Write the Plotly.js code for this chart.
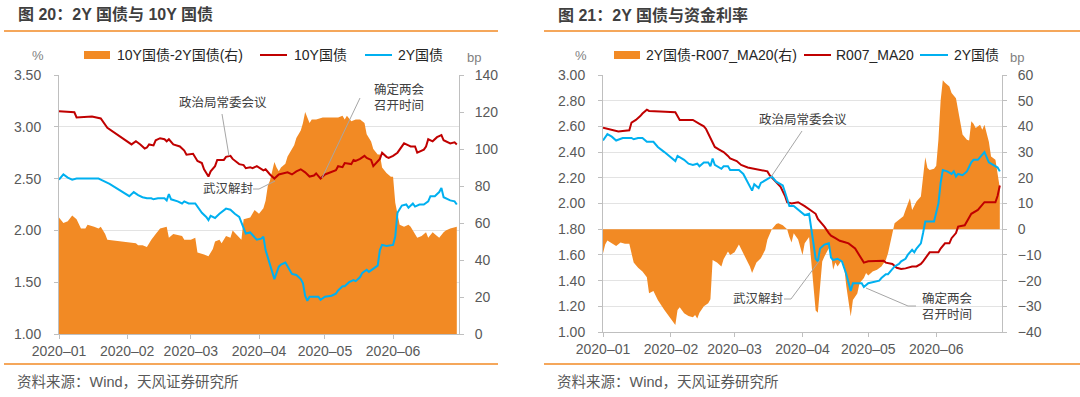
<!DOCTYPE html>
<html><head><meta charset="utf-8">
<script src="https://cdn.plot.ly/plotly-3.0.1.min.js"></script>
<style>html,body{margin:0;padding:0;background:#fff;}#chart{width:1080px;height:397px;}</style>
</head><body><div id="chart"></div>
<script>
// ---------- Data: chart 20 (left) ----------
const monthTicks = ['2020-01-01','2020-02-01','2020-03-01','2020-04-01','2020-05-01','2020-06-01'];
const tickLabels = ['2020–01','2020–02','2020–03','2020–04','2020–05','2020–06'];

const spreadL_dates = ['01-01','01-03','01-05','01-07','01-09','01-11','01-13','01-14','01-17','01-19','01-20','01-22','01-23','02-05','02-06','02-08','02-10','02-12','02-14','02-16','02-19','02-20','02-22','02-26','02-27','03-01','03-03','03-04','03-07','03-09','03-11','03-12','03-14','03-15','03-17','03-19','03-20','03-23','03-24','03-25','03-28','03-30','04-01','04-03','04-04','04-05','04-06','04-07','04-08','04-09','04-10','04-11','04-13','04-14','04-16','04-17','04-18','04-20','04-21','04-22','04-24','04-25','04-27','04-30','05-04','05-07','05-09','05-10','05-11','05-13','05-15','05-17','05-18','05-19','05-20','05-22','05-23','05-25','05-26','05-27','05-29','05-31','06-01','06-02','06-03','06-04','06-06','06-08','06-09','06-11','06-12','06-14','06-16','06-17','06-19','06-21','06-22','06-24','06-25','06-27','06-30'];
const spreadL = [63,60,61,64,62,57,57,59,58,57,58,54,51,49,48,48,47,51,54,57,58,52,54,53,51,51,52,44,43,42,46,50,51,49,53,52,56,52,51,62,63,67,65,68,72,80,83,88,93,90,88,90,92,96,100,102,106,110,114,120,114,116,116,117,117,117,118,116,118,115,116,116,115,114,108,104,100,97,97,90,87,85,85,71,65,59,58,59,58,54,52,53,55,52,55,53,52,55,56,57,58];

const tenY_dates = ['01-01','01-08','01-09','01-16','01-20','01-22','01-23','02-03','02-05','02-07','02-09','02-10','02-11','02-13','02-14','02-16','02-18','02-19','02-20','02-22','02-25','02-27','02-28','03-02','03-04','03-06','03-07','03-09','03-10','03-12','03-13','03-16','03-17','03-19','03-20','03-23','03-25','03-26','03-28','03-29','03-31','04-03','04-04','04-06','04-08','04-10','04-12','04-14','04-16','04-18','04-20','04-22','04-24','04-26','04-27','04-29','05-01','05-04','05-06','05-07','05-09','05-10','05-13','05-14','05-15','05-17','05-19','05-20','05-22','05-23','05-24','05-26','05-27','05-29','05-30','06-01','06-03','06-05','06-06','06-08','06-09','06-11','06-12','06-15','06-16','06-17','06-19','06-21','06-23','06-24','06-27','06-29','06-30'];
const tenY = [3.15,3.14,3.09,3.10,3.08,3.02,2.99,2.83,2.86,2.83,2.79,2.80,2.83,2.82,2.87,2.89,2.88,2.86,2.88,2.83,2.81,2.77,2.73,2.74,2.67,2.65,2.59,2.52,2.57,2.62,2.68,2.68,2.71,2.72,2.69,2.64,2.63,2.60,2.61,2.60,2.62,2.58,2.59,2.54,2.50,2.54,2.55,2.56,2.54,2.57,2.59,2.56,2.52,2.53,2.55,2.50,2.54,2.56,2.58,2.62,2.61,2.65,2.64,2.68,2.67,2.69,2.72,2.70,2.68,2.62,2.64,2.69,2.75,2.71,2.70,2.72,2.75,2.81,2.84,2.82,2.81,2.81,2.75,2.78,2.81,2.88,2.86,2.90,2.92,2.87,2.84,2.85,2.83];

const twoYL_dates = ['01-01','01-03','01-05','01-07','01-09','01-19','01-20','01-22','01-24','02-02','02-04','02-06','02-08','02-10','02-12','02-13','02-15','02-18','02-19','02-20','02-21','02-24','02-26','02-27','02-29','03-03','03-04','03-06','03-08','03-09','03-10','03-12','03-14','03-16','03-17','03-19','03-21','03-23','03-24','03-26','03-28','03-30','03-31','04-02','04-03','04-04','04-06','04-07','04-08','04-10','04-11','04-13','04-15','04-16','04-18','04-20','04-21','04-22','04-23','04-24','04-28','04-29','05-01','05-04','05-06','05-07','05-09','05-10','05-12','05-14','05-15','05-17','05-18','05-20','05-21','05-23','05-25','05-26','05-27','05-29','05-31','06-01','06-02','06-03','06-05','06-07','06-08','06-10','06-11','06-13','06-15','06-17','06-18','06-20','06-22','06-23','06-24','06-27','06-29','06-30'];
const twoYL = [2.49,2.54,2.51,2.49,2.50,2.50,2.49,2.47,2.45,2.33,2.37,2.34,2.32,2.31,2.31,2.30,2.31,2.31,2.29,2.35,2.30,2.28,2.26,2.28,2.26,2.26,2.23,2.17,2.13,2.10,2.14,2.12,2.16,2.19,2.21,2.20,2.16,2.13,2.08,1.97,1.98,1.94,1.91,1.92,1.94,1.81,1.68,1.61,1.53,1.65,1.67,1.69,1.61,1.58,1.57,1.53,1.49,1.37,1.32,1.36,1.36,1.33,1.36,1.37,1.39,1.42,1.46,1.46,1.50,1.52,1.51,1.55,1.59,1.62,1.60,1.63,1.66,1.81,1.86,1.85,1.86,1.86,1.94,2.17,2.24,2.25,2.22,2.26,2.23,2.25,2.25,2.28,2.33,2.33,2.37,2.41,2.32,2.29,2.28,2.25];

// ---------- Data: chart 21 (right) ----------
const spreadR_dates = ['01-01','01-02','01-03','01-05','01-07','01-09','01-11','01-13','01-15','01-17','01-19','01-21','01-22','01-24','01-26','01-29','02-01','02-03','02-04','02-05','02-07','02-09','02-11','02-12','02-13','02-14','02-16','02-18','02-19','02-20','02-22','02-24','02-25','02-27','02-28','03-01','03-03','03-06','03-08','03-09','03-11','03-13','03-15','03-16','03-18','03-20','03-21','03-23','03-25','03-26','03-27','03-28','03-30','04-01','04-02','04-04','04-05','04-06','04-07','04-08','04-09','04-10','04-11','04-13','04-14','04-15','04-16','04-17','04-19','04-20','04-21','04-23','04-24','04-26','04-27','04-29','04-30','05-01','05-03','05-05','05-07','05-09','05-10','05-11','05-12','05-13','05-14','05-15','05-17','05-18','05-19','05-20','05-21','05-22','05-23','05-25','05-26','05-27','05-28','05-29','05-31','06-01','06-02','06-03','06-04','06-05','06-07','06-08','06-10','06-11','06-12','06-13','06-15','06-16','06-17','06-18','06-19','06-21','06-22','06-23','06-25','06-26','06-28','06-29','06-30'];
const spreadR = [-9.4,-6,-4.4,-5.5,-6.5,-5.2,-5.7,-5.7,-13,-15,-16.5,-18.7,-24.9,-24,-27.5,-31.4,-35,-37.3,-31.4,-30.4,-32.7,-33.8,-34.3,-33.4,-34.7,-32.5,-30,-28.8,-27.3,-12,-13,-14.5,-11.7,-8.7,-10,-9,-6,-11.3,-14.5,-17,-13,-11.3,-8,-4,0,2,2.3,1.5,0,-2.9,-5.2,-1.6,-4,-10,-5.5,-3,-12,-20,-31.6,-32.5,-21,-12.6,-10.6,-7.4,-10,-15.8,-13,-14.5,-12,-14.5,-22.3,-34,-27.5,-25,-21,-19,-17,-18,-16.5,-15.8,-14.5,-12,-9.4,-5.5,-1.5,2.3,3,3.6,5,7.5,10,12,7.5,9.5,10.8,12.7,20.5,28,23.8,23,23.5,24.7,34.8,50,58,57,55.5,53,51,46.5,42.6,36.8,34.8,34.5,42,41,39.4,40.6,38.7,40.6,34,28.3,27,22,16];

const r007_dates = ['01-01','01-03','01-05','01-08','01-10','01-13','01-14','01-16','01-18','01-19','01-21','01-22','01-27','02-03','02-05','02-08','02-11','02-14','02-16','02-17','02-19','02-21','02-23','02-25','02-27','02-28','03-02','03-04','03-07','03-10','03-13','03-16','03-17','03-20','03-22','03-24','03-25','03-27','03-30','04-02','04-05','04-07','04-08','04-11','04-13','04-14','04-16','04-18','04-20','04-22','04-25','04-27','04-29','05-01','05-06','05-08','05-09','05-12','05-14','05-16','05-18','05-21','05-23','05-25','05-26','05-29','05-31','06-02','06-03','06-05','06-07','06-08','06-10','06-11','06-14','06-15','06-17','06-20','06-22','06-23','06-28','06-29','06-30'];
const r007 = [2.59,2.58,2.57,2.56,2.565,2.57,2.63,2.65,2.68,2.70,2.73,2.72,2.715,2.71,2.65,2.65,2.65,2.62,2.60,2.58,2.51,2.44,2.42,2.40,2.37,2.35,2.33,2.30,2.28,2.27,2.26,2.25,2.22,2.17,2.13,2.06,2.01,2.00,2.01,1.98,1.94,1.92,1.88,1.82,1.77,1.75,1.73,1.71,1.70,1.69,1.65,1.60,1.54,1.55,1.55,1.555,1.54,1.53,1.50,1.49,1.495,1.51,1.51,1.53,1.55,1.62,1.62,1.62,1.65,1.69,1.69,1.73,1.77,1.82,1.83,1.86,1.92,1.95,1.99,2.01,2.01,2.06,2.14];

const twoYR_dates = ['01-01','01-03','01-05','01-07','01-10','01-14','01-15','01-17','01-19','01-21','01-24','01-26','01-29','02-01','02-03','02-04','02-07','02-09','02-11','02-13','02-14','02-16','02-18','02-19','02-20','02-21','02-24','02-25','02-27','02-28','03-03','03-05','03-07','03-09','03-10','03-12','03-13','03-15','03-18','03-20','03-23','03-24','03-26','03-28','03-30','04-01','04-02','04-04','04-05','04-06','04-07','04-08','04-09','04-11','04-13','04-14','04-15','04-17','04-19','04-21','04-23','04-24','04-28','04-29','05-01','05-03','05-06','05-07','05-09','05-10','05-12','05-13','05-15','05-16','05-18','05-19','05-21','05-22','05-23','05-25','05-26','05-27','05-31','06-02','06-03','06-04','06-06','06-08','06-09','06-10','06-11','06-13','06-15','06-17','06-18','06-20','06-22','06-23','06-25','06-27','06-29','06-30'];
const twoYR = [2.49,2.54,2.52,2.49,2.51,2.51,2.50,2.51,2.51,2.48,2.48,2.44,2.40,2.36,2.33,2.37,2.34,2.31,2.30,2.31,2.29,2.32,2.32,2.29,2.35,2.30,2.27,2.29,2.29,2.26,2.26,2.23,2.17,2.10,2.15,2.12,2.16,2.18,2.21,2.17,2.14,2.09,1.98,1.98,1.95,1.92,1.91,1.92,1.82,1.69,1.57,1.55,1.65,1.68,1.69,1.58,1.56,1.57,1.55,1.45,1.32,1.38,1.38,1.35,1.38,1.39,1.40,1.42,1.45,1.45,1.49,1.51,1.53,1.55,1.57,1.60,1.64,1.62,1.65,1.69,1.77,1.86,1.86,2.00,2.16,2.26,2.25,2.23,2.25,2.21,2.23,2.22,2.25,2.32,2.34,2.34,2.38,2.40,2.32,2.30,2.28,2.25];

// ---------- Styling ----------
const W = 1080, H = 397;
const ORANGE = '#F28A24', RED = '#C00000', BLUE = '#00B0F0';
const AXC = '#bfbfbf', GRID = '#e3e3e3', TICKC = '#595959';
const FONT = '"Liberation Sans", Arial, "Noto Sans CJK SC", sans-serif';
const P = x => x / W, Q = y => 1 - y / H;
const d = arr => arr.map(s => '2020-' + s);

const traces = [
  {x: d(spreadL_dates), y: spreadL, type: 'scatter', mode: 'lines', fill: 'tozeroy',
   fillcolor: ORANGE, line: {width: 0, color: ORANGE}, xaxis: 'x', yaxis: 'y', name: '10Y国债-2Y国债(右)'},
  {x: d(tenY_dates), y: tenY, type: 'scatter', mode: 'lines', line: {color: RED, width: 2},
   xaxis: 'x', yaxis: 'y2', name: '10Y国债'},
  {x: d(twoYL_dates), y: twoYL, type: 'scatter', mode: 'lines', line: {color: BLUE, width: 2},
   xaxis: 'x', yaxis: 'y2', name: '2Y国债'},
  {x: d(spreadR_dates), y: spreadR, type: 'scatter', mode: 'lines', fill: 'tozeroy',
   fillcolor: ORANGE, line: {width: 0, color: ORANGE}, xaxis: 'x2', yaxis: 'y3', name: '2Y国债-R007_MA20(右)'},
  {x: d(r007_dates), y: r007, type: 'scatter', mode: 'lines', line: {color: RED, width: 2},
   xaxis: 'x2', yaxis: 'y4', name: 'R007_MA20'},
  {x: d(twoYR_dates), y: twoYR, type: 'scatter', mode: 'lines', line: {color: BLUE, width: 2},
   xaxis: 'x2', yaxis: 'y4', name: '2Y国债'}
];

const tickfont = {family: FONT, size: 14, color: TICKC};
const xBase = {type: 'date', range: ['2020-01-01', '2020-07-01'], tickvals: monthTicks, ticktext: tickLabels,
  ticks: 'outside', ticklen: 4, tickcolor: AXC, showline: true, linecolor: AXC, linewidth: 1,
  showgrid: false, zeroline: false, tickfont: tickfont, fixedrange: true};
const yCommon = {ticks: 'outside', ticklen: 4, tickcolor: AXC, showline: true, linecolor: AXC, linewidth: 1,
  zeroline: false, tickfont: tickfont, fixedrange: true};

const layout = {
  width: W, height: H, margin: {l: 0, r: 0, t: 0, b: 0},
  paper_bgcolor: '#fff', plot_bgcolor: 'rgba(0,0,0,0)', showlegend: false,
  font: {family: FONT},
  xaxis: Object.assign({}, xBase, {domain: [P(59), P(459)], anchor: 'y'}),
  yaxis: Object.assign({}, yCommon, {domain: [Q(334), Q(75)], anchor: 'x', side: 'right', range: [0, 140],
    dtick: 20, tick0: 0, showgrid: false, ticklabelstandoff: 8}),
  yaxis2: Object.assign({}, yCommon, {overlaying: 'y', anchor: 'x', side: 'left', range: [1, 3.5],
    dtick: 0.5, tick0: 1, tickformat: '.2f', showgrid: true, gridcolor: GRID, ticklabelstandoff: 10}),
  xaxis2: Object.assign({}, xBase, {domain: [P(603), P(1002)], anchor: 'y3'}),
  yaxis3: Object.assign({}, yCommon, {domain: [Q(332), Q(75)], anchor: 'x2', side: 'right', range: [-40, 60],
    dtick: 10, tick0: 0, showgrid: false, ticklabelstandoff: 8}),
  yaxis4: Object.assign({}, yCommon, {overlaying: 'y3', anchor: 'x2', side: 'left', range: [1, 3],
    dtick: 0.2, tick0: 1, tickformat: '.2f', showgrid: true, gridcolor: GRID, ticklabelstandoff: 10}),
  shapes: [],
  annotations: []
};

function line(x0, y0, x1, y1, color, width) {
  layout.shapes.push({type: 'line', xref: 'paper', yref: 'paper', x0: P(x0), y0: Q(y0), x1: P(x1), y1: Q(y1),
    line: {color: color, width: width}});
}
function rect(x0, y0, x1, y1, color) {
  layout.shapes.push({type: 'rect', xref: 'paper', yref: 'paper', x0: P(x0), y0: Q(y1), x1: P(x1), y1: Q(y0),
    fillcolor: color, line: {width: 0}});
}
function text(t, x, y, opts) {
  opts = opts || {};
  layout.annotations.push({text: t, xref: 'paper', yref: 'paper', x: P(x), y: Q(y), showarrow: false,
    xanchor: opts.xanchor || 'left', yanchor: 'middle', align: opts.align || 'left',
    font: {family: FONT, size: opts.size || 14, color: opts.color || '#262626'}});
}

// Headers & footers
text('<b>图 20：2Y 国债与 10Y 国债</b>', 16, 15, {size: 16, color: '#3f3f3f'});
text('<b>图 21：2Y 国债与资金利率</b>', 556, 15, {size: 16, color: '#3f3f3f'});
line(4, 31, 498, 31, ORANGE, 1.5);
line(544, 31, 1080, 31, ORANGE, 1.5);
line(4, 364, 498, 364, ORANGE, 1.5);
line(544, 364, 1080, 364, ORANGE, 1.5);
text('资料来源：Wind，天风证券研究所', 15, 382, {size: 14.5, color: '#595959'});
text('资料来源：Wind，天风证券研究所', 555, 382, {size: 14.5, color: '#595959'});

// Units
text('%', 38, 55, {size: 13, color: '#7f7f7f', xanchor: 'center'});
text('bp', 474, 57, {size: 13, color: '#7f7f7f', xanchor: 'center'});
text('%', 581, 55, {size: 13, color: '#7f7f7f', xanchor: 'center'});
text('bp', 1017, 57, {size: 13, color: '#7f7f7f', xanchor: 'center'});

// Legends
rect(84, 51, 110, 59, ORANGE); text('10Y国债-2Y国债(右)', 115, 55);
line(260, 55, 287, 55, RED, 2); text('10Y国债', 292, 55);
line(365, 55, 392, 55, BLUE, 2); text('2Y国债', 396, 55);
rect(614, 51, 640, 59, ORANGE); text('2Y国债-R007_MA20(右)', 644, 55);
line(804, 55, 831, 55, RED, 2); text('R007_MA20', 834, 55);
line(920, 55, 948, 55, BLUE, 2); text('2Y国债', 952, 55);

// Event annotations (left)
const NOTE = {size: 12.5, color: '#404040'};
const LEAD = '#a6a6a6';
text('政治局常委会议', 223, 103, Object.assign({xanchor: 'center'}, NOTE));
line(222, 114, 229, 156, LEAD, 1);
text('确定两会<br>召开时间', 372, 98, NOTE);
line(360, 98, 322, 178, LEAD, 1);
text('武汉解封', 201, 189, NOTE);
line(253, 189, 259, 189, LEAD, 1);
line(259, 189, 275, 181, LEAD, 1);

// Event annotations (right)
text('政治局常委会议', 803, 120, Object.assign({xanchor: 'center'}, NOTE));
line(802, 131, 771, 177, LEAD, 1);
text('武汉解封', 731, 299, NOTE);
line(784, 299, 791, 299, LEAD, 1);
line(791, 299, 820, 260, LEAD, 1);
text('确定两会<br>召开时间', 920, 306, NOTE);
line(916, 306, 908, 306, LEAD, 1);
line(908, 306, 866, 288, LEAD, 1);

Plotly.newPlot('chart', traces, layout, {staticPlot: true, displayModeBar: false});
</script>
</body></html>
